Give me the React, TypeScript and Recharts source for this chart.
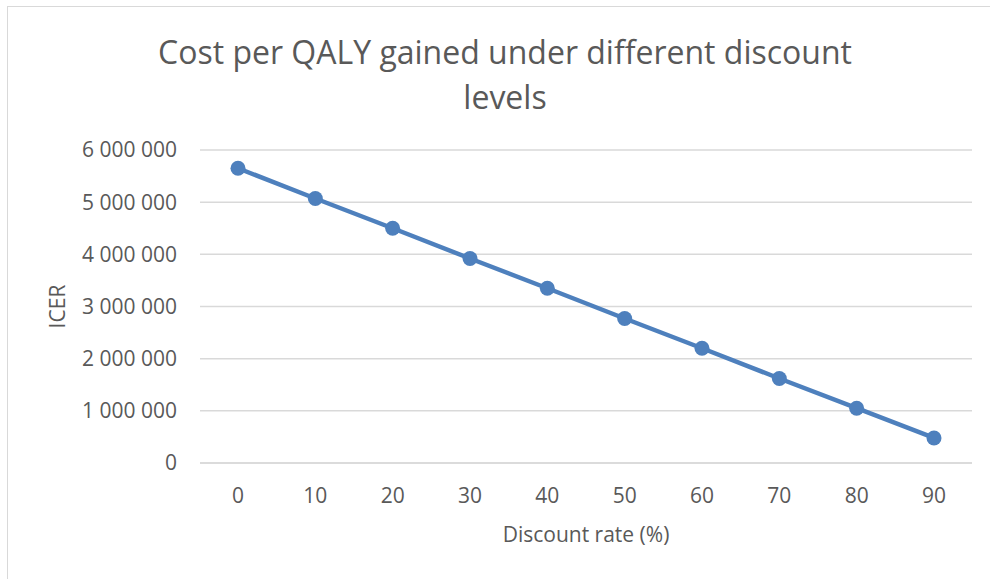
import { CartesianGrid, Label, Line, LineChart, XAxis, YAxis } from "recharts";

const discountRates = ["0", "10", "20", "30", "40", "50", "60", "70", "80", "90"];
const icerValues = [
  5650000, 5070000, 4500000, 3920000, 3350000, 2770000, 2200000, 1620000, 1050000, 480000,
];
const yTicks = [0, 1000000, 2000000, 3000000, 4000000, 5000000, 6000000];

const data = discountRates.map((rate, i) => ({ rate, icer: icerValues[i] }));

const FONT = "'Open Sans', sans-serif";
const TEXT = "#595959";

const formatSpaced = (v: number) => v.toString().replace(/\B(?=(\d{3})+(?!\d))/g, " ");

export default function App() {
  return (
    <div
      style={{
        position: "absolute",
        left: 0,
        top: 0,
        width: 990,
        height: 579,
        background: "#fff",
        overflow: "hidden",
        fontFamily: FONT,
      }}
    >
      <div
        style={{
          position: "absolute",
          left: 7,
          top: 6,
          width: 1000,
          height: 600,
          borderTop: "1px solid #d9d9d9",
          borderLeft: "1px solid #d9d9d9",
        }}
      />
      <div
        style={{
          position: "absolute",
          left: 0,
          top: 29,
          width: 1010,
          textAlign: "center",
          fontSize: 32,
          lineHeight: "45px",
          color: TEXT,
        }}
      >
        Cost per QALY gained under different discount
        <br />
        levels
      </div>
      <div style={{ position: "absolute", left: 0, top: 0 }}>
        <LineChart width={990} height={579} data={data} margin={{ top: 150, right: 18, bottom: 36, left: 80 }}>
          <CartesianGrid vertical={false} stroke="#d9d9d9" strokeWidth={1.5} />
          <XAxis
            dataKey="rate"
            tickLine={false}
            axisLine={{ stroke: "#d9d9d9", strokeWidth: 1.5 }}
            tick={{ fill: TEXT, fontSize: 21, fontFamily: FONT }}
            tickMargin={19}
            padding={{ left: 38, right: 38 }}
            height={80}
          >
            <Label
              value="Discount rate (%)"
              position="insideBottom"
              offset={1}
              style={{ fill: TEXT, fontSize: 21, fontFamily: FONT }}
            />
          </XAxis>
          <YAxis
            domain={[0, 6000000]}
            ticks={yTicks}
            tickFormatter={formatSpaced}
            tickLine={false}
            axisLine={false}
            tick={{ fill: TEXT, fontSize: 21, fontFamily: FONT }}
            tickMargin={17}
            width={120}
          >
            <Label
              value="ICER"
              angle={-90}
              position="insideLeft"
              offset={-22}
              style={{ fill: TEXT, fontSize: 21, fontFamily: FONT, textAnchor: "middle" }}
            />
          </YAxis>
          <Line
            type="linear"
            dataKey="icer"
            stroke="#4e80bd"
            strokeWidth={4.5}
            dot={{ r: 7.5, fill: "#4e80bd", stroke: "#4e80bd", strokeWidth: 0 }}
            isAnimationActive={false}
          />
        </LineChart>
      </div>
    </div>
  );
}
